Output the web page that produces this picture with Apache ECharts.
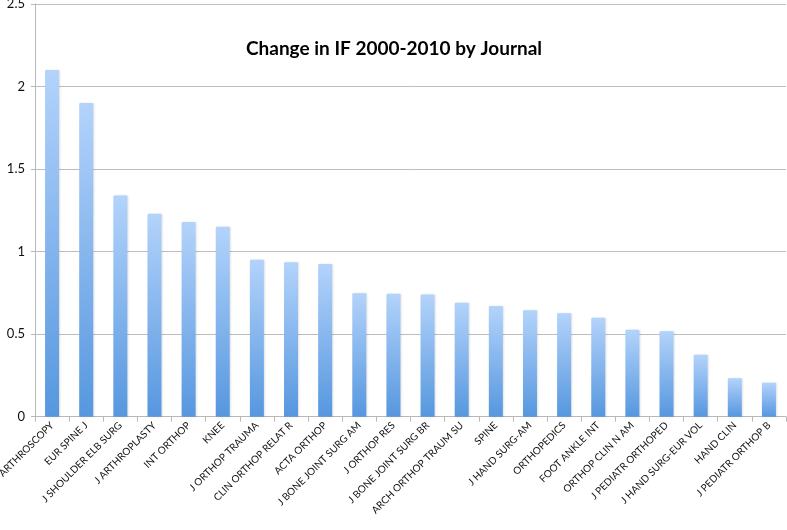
<!DOCTYPE html>
<html>
<head>
<meta charset="utf-8">
<script src="https://cdn.jsdelivr.net/npm/echarts@6/dist/echarts.min.js"></script>
<style>html,body{margin:0;padding:0;background:#fff}#c{width:787px;height:530px}</style>
</head>
<body>
<div id="c"></div>
<script>
const journals = ["ARTHROSCOPY","EUR SPINE J","J SHOULDER ELB SURG","J ARTHROPLASTY","INT ORTHOP","KNEE","J ORTHOP TRAUMA","CLIN ORTHOP RELAT R","ACTA ORTHOP","J BONE JOINT SURG AM","J ORTHOP RES","J BONE JOINT SURG BR","ARCH ORTHOP TRAUM SU","SPINE","J HAND SURG-AM","ORTHOPEDICS","FOOT ANKLE INT","ORTHOP CLIN N AM","J PEDIATR ORTHOPED","J HAND SURG-EUR VOL","HAND CLIN","J PEDIATR ORTHOP B"];
const ifChange = [2.10,1.90,1.34,1.23,1.18,1.15,0.95,0.935,0.925,0.748,0.745,0.74,0.69,0.67,0.645,0.627,0.60,0.526,0.518,0.375,0.233,0.206];
const yTicks = {min:0, max:2.5, interval:0.5};
const chartTitle = "Change in IF 2000-2010 by Journal";

const chart = echarts.init(document.getElementById('c'), null, {renderer:'canvas'});
chart.setOption({
  animation:false,
  backgroundColor:'#fff',
  title:{text:chartTitle,left:389,top:34,textAlign:'center',
    textStyle:{fontFamily:'Lato',fontWeight:'bold',fontSize:19,color:'#000'}},
  grid:{left:35,right:1,top:4,bottom:113.3,containLabel:false,outerBoundsMode:'none'},
  xAxis:{type:'category',data:journals,
    axisLine:{lineStyle:{color:'#b8b8b8',width:1}},
    axisTick:{show:true,length:5,lineStyle:{color:'#b8b8b8'}},
    axisLabel:{rotate:45,interval:0,margin:7,color:'#111',fontSize:10,
      fontFamily:'Lato, sans-serif'}},
  yAxis:{type:'value',min:yTicks.min,max:yTicks.max,interval:yTicks.interval,
    axisLine:{show:true,lineStyle:{color:'#b8b8b8'}},
    axisTick:{show:true,length:4,lineStyle:{color:'#b8b8b8'}},
    axisLabel:{color:'#111',fontSize:13,margin:10,fontFamily:'Lato, sans-serif'},
    splitLine:{lineStyle:{color:'#bdbdbd',width:1}}},
  series:[{type:'bar',data:ifChange,barWidth:14,
    itemStyle:{borderRadius:[1,1,0,0],
      color:new echarts.graphic.LinearGradient(0,0,0,1,[{offset:0,color:'#b3d3fb'},{offset:1,color:'#5697df'}]),
      shadowColor:'rgba(0,0,0,0.12)',shadowBlur:2,shadowOffsetX:1}}]
});
</script>
</body>
</html>
